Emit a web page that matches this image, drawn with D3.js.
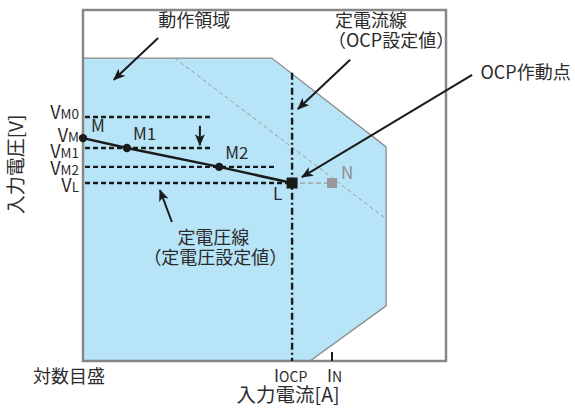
<!DOCTYPE html>
<html>
<head>
<meta charset="utf-8">
<script src="https://cdn.jsdelivr.net/npm/d3@7"></script>
<style>
  body { margin: 0; background: #fff; }
  svg { display: block; }
  text { font-family: "Noto Sans CJK JP", "Noto Sans", sans-serif; fill: #2b2b2b; }
</style>
</head>
<body>
<div id="chart"></div>
<script>
// operating region outline (log current units / voltage units, 0..100)
const regionX = [0, 52, 83.5, 83.5, 62.5, 0];
const regionY = [86.3, 86.3, 61, 15.7, 0, 0];

// operating path M -> M1 -> M2 -> L
const pathNames = ["M", "M1", "M2", "L"];
const pathX = [0, 12.1, 37.5, 57.6];
const pathY = [63.5, 60.7, 55.3, 50.7];

// voltage levels (dashed lines) and their end points
const levelNames = ["VM0", "VM1", "VM2", "VL"];
const levelY = [69.5, 60.7, 55.3, 50.7];
const levelEnd = [35, 35, 52.9, 57.6];

// y tick labels
const yTickMain = ["V", "V", "V", "V", "V"];
const yTickSub = ["M0", "M", "M1", "M2", "L"];
const yTickVal = [69.5, 63.5, 60.7, 55.3, 50.7];

// x tick labels
const xTickMain = ["I", "I"];
const xTickSub = ["OCP", "N"];
const xTickVal = [57.6, 68.6];

// point N and the constant power (dashed grey) line
const nPoint = [68.6, 50.7];
const powerX = [25.3, 83.5];
const powerY = [86.3, 40.5];

const margin = { top: 10, right: 129, bottom: 47, left: 83 },
      width = 575 - margin.left - margin.right,
      height = 408 - margin.top - margin.bottom;

const svg = d3.select("#chart")
  .append("svg")
  .attr("width", 575)
  .attr("height", 408);

const defs = svg.append("defs");
defs.append("marker")
  .attr("id", "arr")
  .attr("viewBox", "0 0 12 10")
  .attr("refX", 11).attr("refY", 5)
  .attr("markerWidth", 12).attr("markerHeight", 10)
  .attr("markerUnits", "userSpaceOnUse")
  .attr("orient", "auto")
  .append("path")
  .attr("d", "M0,0 L12,5 L0,10 L3,5 Z")
  .attr("fill", "#1a1a1a");

const g = svg.append("g")
  .attr("transform", "translate(" + margin.left + "," + margin.top + ")");

const x = d3.scaleLinear().domain([0, 100]).range([0, width]);
const y = d3.scaleLinear().domain([0, 100]).range([height, 0]);

const line = d3.line().x(d => x(d[0])).y(d => y(d[1]));

// region fill
g.append("path")
  .datum(regionX.map((v, i) => [v, regionY[i]]))
  .attr("d", line.curve(d3.curveLinearClosed))
  .attr("fill", "#b8e4f8")
  .attr("stroke", "#8c8c8c")
  .attr("stroke-width", 1.3);
line.curve(d3.curveLinear);

// constant power line
g.append("path")
  .datum(powerX.map((v, i) => [v, powerY[i]]))
  .attr("d", line)
  .attr("fill", "none")
  .attr("stroke", "#9a9a9a")
  .attr("stroke-width", 1)
  .attr("stroke-dasharray", "4,3");

// L -> N dashed
g.append("line")
  .attr("x1", x(pathX[3])).attr("y1", y(pathY[3]))
  .attr("x2", x(nPoint[0])).attr("y2", y(nPoint[1]))
  .attr("stroke", "#9a9a9a")
  .attr("stroke-width", 1.3)
  .attr("stroke-dasharray", "5,3");

// frame
g.append("rect")
  .attr("x", x(0)).attr("y", y(100))
  .attr("width", x(100) - x(0)).attr("height", y(0) - y(100))
  .attr("fill", "none")
  .attr("stroke", "#878787")
  .attr("stroke-width", 2.5);

// voltage level dashed lines
g.selectAll(".lvl")
  .data(levelNames)
  .enter()
  .append("line")
  .attr("class", "lvl")
  .attr("x1", x(0) + 2)
  .attr("x2", (d, i) => x(levelEnd[i]))
  .attr("y1", (d, i) => y(levelY[i]))
  .attr("y2", (d, i) => y(levelY[i]))
  .attr("stroke", "#1a1a1a")
  .attr("stroke-width", 2.4)
  .attr("stroke-dasharray", "5,3");

// constant current line (dash-dot)
g.append("line")
  .attr("x1", x(xTickVal[0])).attr("x2", x(xTickVal[0]))
  .attr("y1", y(82.1)).attr("y2", y(0))
  .attr("stroke", "#1a1a1a")
  .attr("stroke-width", 2.4)
  .attr("stroke-dasharray", "7,3,2,3");

// IN tick
g.append("line")
  .attr("x1", x(xTickVal[1])).attr("x2", x(xTickVal[1]))
  .attr("y1", y(0)).attr("y2", y(0) - 9)
  .attr("stroke", "#1a1a1a")
  .attr("stroke-width", 2);

// operating path
g.append("path")
  .datum(pathX.map((v, i) => [v, pathY[i]]))
  .attr("d", line)
  .attr("fill", "none")
  .attr("stroke", "#1a1a1a")
  .attr("stroke-width", 2.5);

g.selectAll(".pt")
  .data(pathNames.slice(0, 3))
  .enter()
  .append("circle")
  .attr("class", "pt")
  .attr("cx", (d, i) => x(pathX[i]))
  .attr("cy", (d, i) => y(pathY[i]))
  .attr("r", 4.2)
  .attr("fill", "#1a1a1a");

// L point and N point squares
g.append("rect")
  .attr("x", x(pathX[3]) - 5.5).attr("y", y(pathY[3]) - 5.5)
  .attr("width", 11).attr("height", 11)
  .attr("fill", "#1a1a1a");
g.append("rect")
  .attr("x", x(nPoint[0]) - 5).attr("y", y(nPoint[1]) - 5)
  .attr("width", 10).attr("height", 10)
  .attr("fill", "#999");

// point labels
const ptLabelDx = [8, 6, 6, -19];
const ptLabelDy = [-6, -8, -8, 17];
g.selectAll(".ptl")
  .data(pathNames)
  .enter()
  .append("text")
  .attr("class", "ptl")
  .attr("x", (d, i) => x(pathX[i]) + ptLabelDx[i])
  .attr("y", (d, i) => y(pathY[i]) + ptLabelDy[i])
  .attr("font-size", 17)
  .text(d => d);
g.append("text")
  .attr("x", x(nPoint[0]) + 9).attr("y", y(nPoint[1]) - 4)
  .attr("font-size", 17)
  .style("fill", "#8f8f8f")
  .text("N");

// y tick labels
const yDy = [2, 4, 10, 8, 9];
yTickMain.forEach((m, i) => {
  const t = g.append("text")
    .attr("x", -4)
    .attr("y", y(yTickVal[i]) + yDy[i])
    .attr("text-anchor", "end")
    .attr("font-size", 18);
  t.append("tspan").text(m);
  t.append("tspan").attr("font-size", 13.5).text(yTickSub[i]);
});

// x tick labels
const xDx = [-18, -5];
xTickMain.forEach((m, i) => {
  const t = g.append("text")
    .attr("x", x(xTickVal[i]) + xDx[i])
    .attr("y", y(0) + 21)
    .attr("font-size", 17);
  t.append("tspan").text(m);
  t.append("tspan").attr("font-size", 14).text(xTickSub[i]);
});

// axis titles
g.append("text")
  .attr("x", x(56.5)).attr("y", y(0) + 41)
  .attr("text-anchor", "middle")
  .attr("font-size", 19.5)
  .text("入力電流[A]");
g.append("text")
  .attr("transform", "translate(-60," + y(56) + ") rotate(-90)")
  .attr("text-anchor", "middle")
  .attr("font-size", 19)
  .text("入力電圧[V]");
g.append("text")
  .attr("x", -50).attr("y", y(0) + 22)
  .attr("font-size", 18)
  .text("対数目盛");

// annotations
const notes = [
  { lines: ["動作領域"], tx: 20.7, ty: 95.2, from: [20.7, 92.0], to: [8.5, 80.1] },
  { lines: ["定電流線", "（OCP設定値）"], tx: 69.4, ty: 95.2, from: [73.6, 85.8], to: [59.2, 71.8] },
  { lines: ["OCP作動点"], tx: 109.5, ty: 80.3, from: [107.2, 81.5], to: [60.3, 52.4] },
  { lines: [], from: [32.2, 67.0], to: [32.2, 61.5] },
  { lines: ["定電圧線", "（定電圧設定値）"], tx: 26, ty: 33.4, from: [24.5, 39.6], to: [21.2, 48.7] }
];
const noteDx = [[0], [0, -7], [0], [], [0, -34]];
notes.forEach((n, k) => {
  g.append("line")
    .attr("x1", x(n.from[0])).attr("y1", y(n.from[1]))
    .attr("x2", x(n.to[0])).attr("y2", y(n.to[1]))
    .attr("stroke", "#1a1a1a")
    .attr("stroke-width", 2)
    .attr("marker-end", "url(#arr)");
  n.lines.forEach((s, j) => {
    g.append("text")
      .attr("x", x(n.tx) + noteDx[k][j])
      .attr("y", y(n.ty) + j * 20)
      .attr("font-size", 18)
      .text(s);
  });
});
</script>
</body>
</html>
